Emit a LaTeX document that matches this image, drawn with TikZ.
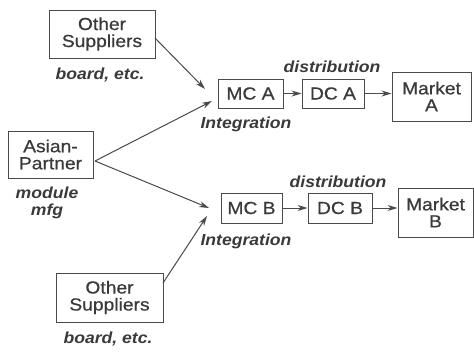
\documentclass[tikz,border=0pt]{standalone}
\usepackage{fontspec}
\setmainfont{Liberation Sans}[FakeStretch=1.1]
\newfontfamily\boxfont{Liberation Sans}[FakeStretch=1.1,FakeBold=0.6]
\usetikzlibrary{arrows.meta}
\definecolor{ink}{HTML}{3A3A3A}
\definecolor{linec}{HTML}{4A4A4A}
\tikzset{
  box/.style={draw=linec, line width=1pt, text=ink, align=center, inner sep=0pt,
    font=\fontsize{17.5}{17}\boxfont},
  lbl/.style={text=ink, align=center, inner sep=0pt,
    font=\fontsize{16}{16.5}\selectfont\bfseries\itshape},
  arr/.style={draw=linec, line width=1pt, -{Stealth[length=10pt,width=6pt]}},
}
\begin{document}
\begin{tikzpicture}[x=1pt,y=-1pt]
\useasboundingbox (0,0) rectangle (474,351);
% boxes
\node[box, minimum width=106pt, minimum height=48pt] (supA) at (102,34) {Other\\Suppliers};
\node[box, minimum width=85pt, minimum height=47pt] (asian) at (50.5,154.5) {Asian-\\Partner};
\node[box, minimum width=107pt, minimum height=49pt] (supB) at (109.5,297.5) {Other\\Suppliers};
\node[box, minimum width=65pt, minimum height=29pt] (mcA) at (250.5,93.5) {MC A};
\node[box, minimum width=62pt, minimum height=29pt] (dcA) at (333,93.5) {DC A};
\node[box, minimum width=79pt, minimum height=49pt] (mkA) at (431.5,96.5) {Market\\A};
\node[box, minimum width=61pt, minimum height=30pt] (mcB) at (251.5,208) {MC B};
\node[box, minimum width=64pt, minimum height=30pt] (dcB) at (340,208) {DC B};
\node[box, minimum width=75pt, minimum height=49pt] (mkB) at (435.5,212.5) {Market\\B};
% labels
\node[lbl] (lbA) at (100,75) {board, etc.};
\node[lbl] (lmod) at (47,203) {module\\mfg};
\node[lbl] (lbB) at (108,339) {board, etc.};
\node[lbl] (ldA) at (332,67) {distribution};
\node[lbl] (liA) at (246,124) {Integration};
\node[lbl] (ldB) at (338,182) {distribution};
\node[lbl] (liB) at (246,241) {Integration};
% free ends
\coordinate (sA) at (155,38);
\coordinate (eA1) at (205,89);
\coordinate (aS) at (95,161);
\coordinate (eA2) at (212,101);
\coordinate (eB1) at (209,208);
\coordinate (sB) at (163,283);
\coordinate (eB2) at (207,216);
% connectors
\draw[arr] (sA) -- (eA1);
\draw[arr] (aS) -- (eA2);
\draw[arr] (aS) -- (eB1);
\draw[arr] (sB) -- (eB2);
\draw[arr] (mcA) -- (dcA);
\draw[arr] (dcA) -- (mkA.west |- dcA);
\draw[arr] (mcB) -- (dcB);
\draw[arr] (dcB) -- (mkB.west |- dcB);
\end{tikzpicture}
\end{document}
